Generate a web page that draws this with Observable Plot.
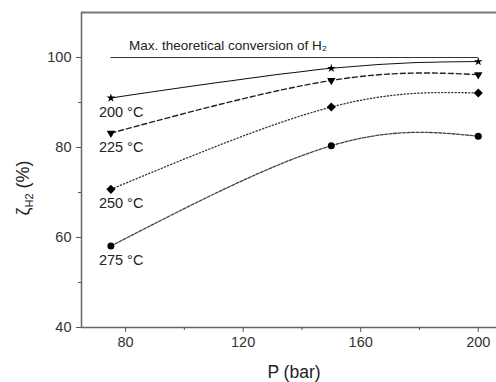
<!DOCTYPE html>
<html>
<head>
<meta charset="utf-8">
<script src="https://cdn.jsdelivr.net/npm/d3@7"></script>
<script src="https://cdn.jsdelivr.net/npm/@observablehq/plot@0.6"></script>
<style>
  html, body { margin: 0; padding: 0; background: #fff; }
  svg { display: block; }
</style>
</head>
<body>
<div id="chart"></div>
<script>
const pressures = [75, 150, 200];
const temps = ["200 °C", "225 °C", "250 °C", "275 °C"];
const conv200 = [91.0, 97.6, 99.1];
const conv225 = [83.2, 94.9, 96.2];
const conv250 = [70.7, 89.0, 92.1];
const conv275 = [58.1, 80.4, 82.5];
const maxConv = 100;
const maxLabel = "Max. theoretical conversion of H₂";
const xTicks = [80, 120, 160, 200];
const xMinor = [100, 140, 180];
const yTicks = [40, 60, 80, 100];
const yMinor = [50, 70, 90];

const seriesVals = [conv200, conv225, conv250, conv275];
const symbols = ["star", "triangle", "diamond2", "circle"];
const sizes = [2.7, 3.1, 4.1, 3.5];
const rotations = [0, 180, 0, 0];
const dashes = [null, "5,3", "1.2,2.2", "3,1.5"];
const strokes = ["#111", "#222", "#333", "#444"];
const widths = [1.1, 1.4, 1.3, 1.3];

const data = [];
seriesVals.forEach((vals, i) => vals.forEach((v, j) => data.push({t: temps[i], s: i, p: pressures[j], v})));

const marks = [];
seriesVals.forEach((vals, i) => {
  const d = data.filter(r => r.s === i);
  marks.push(Plot.line(d, {x: "p", y: "v", curve: "natural", stroke: strokes[i], strokeWidth: widths[i], strokeDasharray: dashes[i]}));
});
seriesVals.forEach((vals, i) => {
  const d = data.filter(r => r.s === i);
  marks.push(Plot.dot(d, {x: "p", y: "v", symbol: () => symbols[i], r: sizes[i], fill: "#000", stroke: "none", rotate: rotations[i]}));
});
// temperature labels at first point
marks.push(Plot.text(data.filter(r => r.p === pressures[0]), {x: "p", y: "v", text: "t", textAnchor: "start", dx: -12, dy: 14, fontSize: 14.5, fill: "#222"}));
// max line
marks.push(Plot.ruleY([maxConv], {x1: pressures[0], x2: pressures[2], stroke: "#333", strokeWidth: 1.2}));
marks.push(Plot.text([maxLabel], {x: pressures[0], y: maxConv, text: d => d, textAnchor: "start", dx: 18, dy: -12, fontSize: 13.5, fill: "#222"}));
// frame lines
marks.push(Plot.ruleY([110], {stroke: "#777", strokeWidth: 2}));
marks.push(Plot.ruleY([40], {stroke: "#666", strokeWidth: 1.5}));
marks.push(Plot.ruleX([65], {stroke: "#666", strokeWidth: 1.5}));
// axes
marks.push(Plot.axisX(xTicks, {tickSize: 5, tickPadding: 4, fontSize: 14.5, stroke: "#555", fill: "#333", label: null}));
marks.push(Plot.axisX(xMinor, {tickSize: 3, tickFormat: () => "", stroke: "#555", label: null}));
marks.push(Plot.axisY(yTicks, {tickSize: 5, tickPadding: 5, fontSize: 14.5, stroke: "#555", fill: "#333", label: null}));
marks.push(Plot.axisY(yMinor, {tickSize: 3, tickFormat: () => "", stroke: "#555", label: null}));

const chart = Plot.plot({
  width: 496,
  height: 382,
  marginLeft: 81,
  marginTop: 12,
  marginBottom: 55,
  marginRight: 0,
  style: {fontFamily: "Liberation Sans, Arial, sans-serif", background: "#fff"},
  x: {domain: [65, 206.2]},
  y: {domain: [40, 110]},
  marks
});
document.getElementById("chart").appendChild(chart);

const svg = d3.select(chart);
svg.append("text")
  .attr("x", 294).attr("y", 378)
  .attr("text-anchor", "middle")
  .attr("font-size", 17.5).attr("fill", "#222")
  .attr("font-family", "Liberation Sans, Arial, sans-serif")
  .text("P (bar)");
const yl = svg.append("text")
  .attr("transform", "translate(29,188) rotate(-90)")
  .attr("text-anchor", "middle")
  .attr("font-size", 18).attr("fill", "#222")
  .attr("font-family", "Liberation Sans, Arial, sans-serif");
yl.append("tspan").text("ζ");
yl.append("tspan").attr("font-size", 11).attr("dy", 4).text("H2");
yl.append("tspan").attr("dy", -4).text(" (%)");
</script>
</body>
</html>
